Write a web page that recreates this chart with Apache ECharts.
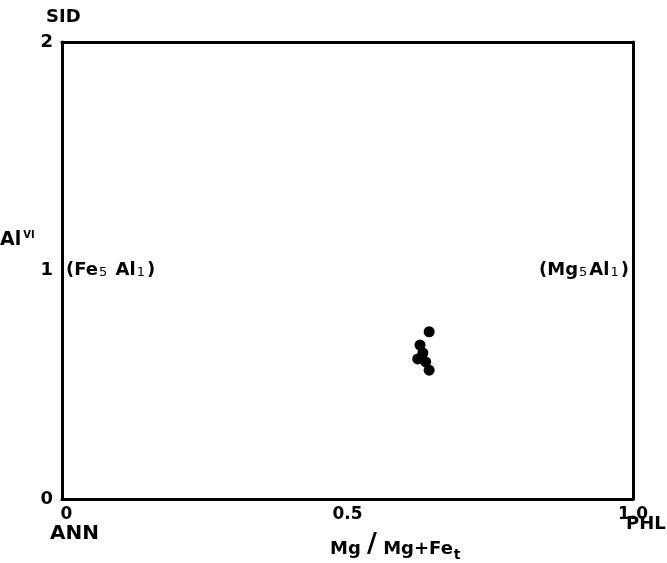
<!DOCTYPE html>
<html><head><meta charset="utf-8">
<script src="https://cdn.jsdelivr.net/npm/echarts@6/dist/echarts.min.js"></script>
<style>html,body{margin:0;padding:0;background:#fff}#c{width:667px;height:563px}</style>
</head><body><div id="c"></div>
<script>
const xRatio = [0.643, 0.627, 0.632, 0.623, 0.637, 0.643];
const alVI   = [0.732, 0.674, 0.639, 0.613, 0.600, 0.564];
const xTicks = {0: '0', 0.5: '0.5', 1: '1.0'};
const yTicks = {0: '0', 1: '1', 2: '2'};

const chart = echarts.init(document.getElementById('c'));
const F = '"DejaVu Sans", "Liberation Sans", Arial, sans-serif';
const B = 'bold 18px ' + F;
const axisLine = {show: true, onZero: false, lineStyle: {color: '#000', width: 3}};
chart.setOption({
  animation: false,
  grid: {left: 62, right: 34, top: 42, bottom: 64},
  xAxis: [{
    type: 'value', min: 0, max: 1, interval: 0.5, position: 'bottom',
    axisLine: axisLine, axisTick: {show: false}, splitLine: {show: false},
    axisLabel: {
      formatter: v => v === 0 ? '{z|' + xTicks[v] + '}' : (xTicks[v] || ''),
      rich: {z: {padding: [0, 0, 0, 9]}},
      color: '#000', fontFamily: F, fontWeight: 'bold', fontSize: 17, margin: 7}
  }, {
    type: 'value', min: 0, max: 1, position: 'top',
    axisLine: axisLine, axisTick: {show: false}, splitLine: {show: false}, axisLabel: {show: false}
  }],
  yAxis: [{
    type: 'value', min: 0, max: 2, interval: 1, position: 'left',
    axisLine: axisLine, axisTick: {show: false}, splitLine: {show: false},
    axisLabel: {formatter: v => yTicks[v] || '', color: '#000', fontFamily: F, fontWeight: 'bold', fontSize: 18, margin: 9}
  }, {
    type: 'value', min: 0, max: 2, position: 'right',
    axisLine: axisLine, axisTick: {show: false}, splitLine: {show: false}, axisLabel: {show: false}
  }],
  series: [{
    type: 'scatter', symbolSize: 11, itemStyle: {color: '#000', opacity: 1},
    data: xRatio.map((x, i) => [x, alVI[i]])
  }],
  graphic: [
    {type: 'text', left: 46, top: 8, style: {text: 'SID', font: B, fill: '#000'}},
    {type: 'text', left: 50, top: 524, style: {text: 'ANN', font: 'bold 20px ' + F, fill: '#000'}},
    {type: 'text', left: 626, top: 515, style: {text: 'PHL', font: B, fill: '#000'}},
    {type: 'text', left: 0, top: 230, style: {
      text: '{b|Al}{s|VI}', rich: {b: {font: 'bold 19px ' + F, fill: '#000', verticalAlign: 'bottom'}, s: {font: 'bold 10px ' + F, fill: '#000', verticalAlign: 'top', padding: [0, 0, 10, 2]}}}},
    {type: 'text', left: 66, top: 261, style: {
      text: '{n|(Fe}{s|5}{n| Al}{s|1}{n|)}', rich: {n: {font: B, fill: '#000', verticalAlign: 'bottom'}, s: {font: '13px ' + F, fill: '#000', verticalAlign: 'bottom', padding: [0, 2, 0, 1]}}}},
    {type: 'text', left: 539, top: 261, style: {
      text: '{n|(Mg}{s|5}{n|Al}{s|1}{n|)}', rich: {n: {font: B, fill: '#000', verticalAlign: 'bottom'}, s: {font: '13px ' + F, fill: '#000', verticalAlign: 'bottom', padding: [0, 2, 0, 1]}}}},
    {type: 'text', left: 330, top: 531, style: {
      text: '{n|Mg }{l|/}{n| Mg+Fe}{s|t}', rich: {n: {font: B, fill: '#000', verticalAlign: 'bottom'}, l: {font: 'bold 27px ' + F, fill: '#000', verticalAlign: 'bottom'}, s: {font: 'bold 14px ' + F, fill: '#000', verticalAlign: 'bottom', padding: [0, 0, -4, 1]}}}}
  ]
});
</script></body></html>
